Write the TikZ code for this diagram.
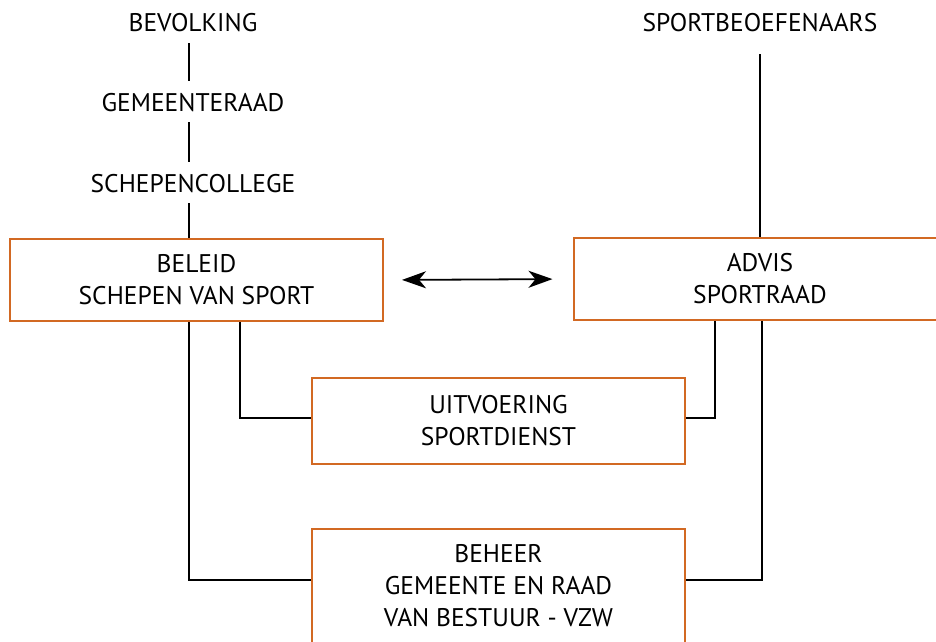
\documentclass[tikz,border=0pt]{standalone}
\usepackage{fontspec}
\setmainfont{PT Sans}
\usetikzlibrary{arrows.meta, positioning}
\definecolor{oranjerand}{RGB}{210,105,35}
\tikzstyle{oTekst} = [inner sep=0pt, text height=18pt, text depth=0pt, font=\fontsize{25.5}{32}\selectfont]
\tikzstyle{oBlok} = [rectangle, minimum width=373pt, minimum height=82pt, text centered, align=center, draw=oranjerand, line width=2pt, font=\fontsize{25.5}{32}\selectfont]
\tikzstyle{oLijn} = [line width=1.6pt, black]
\tikzstyle{oPijl} = [line width=1.8pt, <->, >={Stealth[length=24pt, width=17pt, inset=7pt]}]

\begin{document}
\begin{tikzpicture}[x=1pt, y=-1pt, node distance=80pt]
    \useasboundingbox (0,0) rectangle (936,641);
    \node (bev) [oTekst] at (193,22) {BEVOLKING};
    \node (gem) [oTekst, below of=bev] {GEMEENTERAAD};
    \node (sch) [oTekst, below of=gem, yshift=-1pt] {SCHEPENCOLLEGE};
    \node (beleid) [oBlok] at (196.5,280) {BELEID\\SCHEPEN VAN SPORT};
    \node (advis) [oBlok] at (760,279) {ADVIS\\SPORTRAAD};
    \node (sport) [oTekst] at (760,22) {SPORTBEOEFENAARS};
    \node (uitv) [oBlok, minimum height=86pt] at (498.5,421) {UITVOERING\\SPORTDIENST};
    \node (beheer) [oBlok, minimum height=114pt, below of=uitv, yshift=-85pt] {BEHEER\\GEMEENTE EN RAAD\\VAN BESTUUR - VZW};

    % linker kolom
    \draw [oLijn, shorten <=12pt, shorten >=12pt] ([xshift=-4pt]bev.south) -- ([xshift=-4pt]gem.north);
    \draw [oLijn, shorten <=11pt, shorten >=12pt] ([xshift=-4pt]gem.south) -- ([xshift=-4pt]sch.north);
    \draw [oLijn, shorten <=11pt] ([xshift=-4pt]sch.south) -- ([xshift=-4pt]sch.south |- beleid.north);
    \draw [oLijn, shorten <=23pt] (sport.south) -- (advis.north);

    \draw [oPijl, shorten <=18pt, shorten >=20pt] (beleid.east) -- (advis.west);

    \draw [oLijn] ([xshift=-7.5pt]beleid.south) |- ([yshift=6pt]beheer.west);
    \draw [oLijn] ([xshift=43.5pt]beleid.south) |- ([yshift=3pt]uitv.west);
    \draw [oLijn] ([xshift=-45pt]advis.south) |- ([yshift=3pt]uitv.east);
    \draw [oLijn] ([xshift=2pt]advis.south) |- ([yshift=6pt]beheer.east);
\end{tikzpicture}
\end{document}
